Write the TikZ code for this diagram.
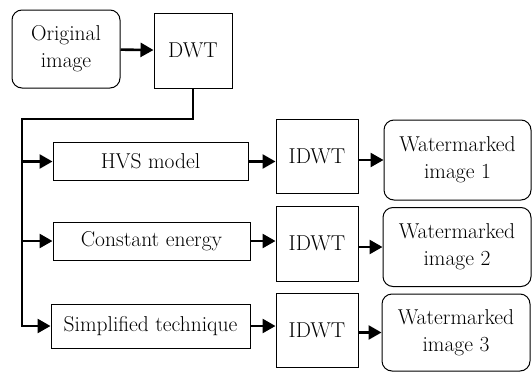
\documentclass[tikz,border=0pt]{standalone}
\usetikzlibrary{arrows.meta,positioning}
\tikzset{
  box/.style={draw,line width=1pt,inner sep=0pt,align=center,font=\rmfamily\fontsize{21.5}{27}\selectfont},
  roundbox/.style={box,rounded corners=10pt},
  link/.style={line width=2.6pt,line join=miter,-{Triangle[length=13pt,width=14pt]}}
}
\begin{document}
\begin{tikzpicture}[x=1pt,y=-1pt]
  \useasboundingbox (0,0) rectangle (532,372);
  % source and transform
  \node[roundbox,minimum width=108pt,minimum height=78pt] (orig) at (66,49) {Original\\image};
  \node[box,minimum width=78pt,minimum height=75pt] (dwt) at (193,50.5) {DWT};
  % the three embedding methods
  \node[box,minimum width=195pt,minimum height=38pt] (hvs) at (150.5,161.5) {HVS model};
  \node[box,minimum width=197pt,minimum height=38pt] (const) at (151.5,241) {Constant energy};
  \node[box,minimum width=199pt,minimum height=44pt] (simp) at (150.5,326) {Simplified technique};
  % inverse transforms
  \node[box,minimum width=82pt,minimum height=74pt] (idwt1) at (317,156) {IDWT};
  \node[box,minimum width=82pt,minimum height=75pt] (idwt2) at (317,243.5) {IDWT};
  \node[box,minimum width=82pt,minimum height=74pt] (idwt3) at (317,330) {IDWT};
  % outputs
  \node[roundbox,minimum width=147pt,minimum height=80pt] (wm1) at (457.5,160) {Watermarked\\image 1};
  \node[roundbox,minimum width=148pt,minimum height=79pt] (wm2) at (457,247) {Watermarked\\image 2};
  \node[roundbox,minimum width=148pt,minimum height=77pt] (wm3) at (456,332.5) {Watermarked\\image 3};
  \coordinate (bus) at (22,119);
  \draw[link] (orig) -- (dwt);
  \draw[link] (dwt.south) |- (bus) |- (simp.west);
  \draw[link] (bus |- hvs.west) -- (hvs.west);
  \draw[link] (bus |- const.west) -- (const.west);
  \draw[link] (hvs.east) -- (hvs.east -| idwt1.west);
  \draw[link] (const.east) -- (const.east -| idwt2.west);
  \draw[link] (simp.east) -- (simp.east -| idwt3.west);
  \draw[link] (wm1.west -| idwt1.east) -- (wm1.west);
  \draw[link] (wm2.west -| idwt2.east) -- (wm2.west);
  \draw[link] (wm3.west -| idwt3.east) -- (wm3.west);
\end{tikzpicture}
\end{document}
